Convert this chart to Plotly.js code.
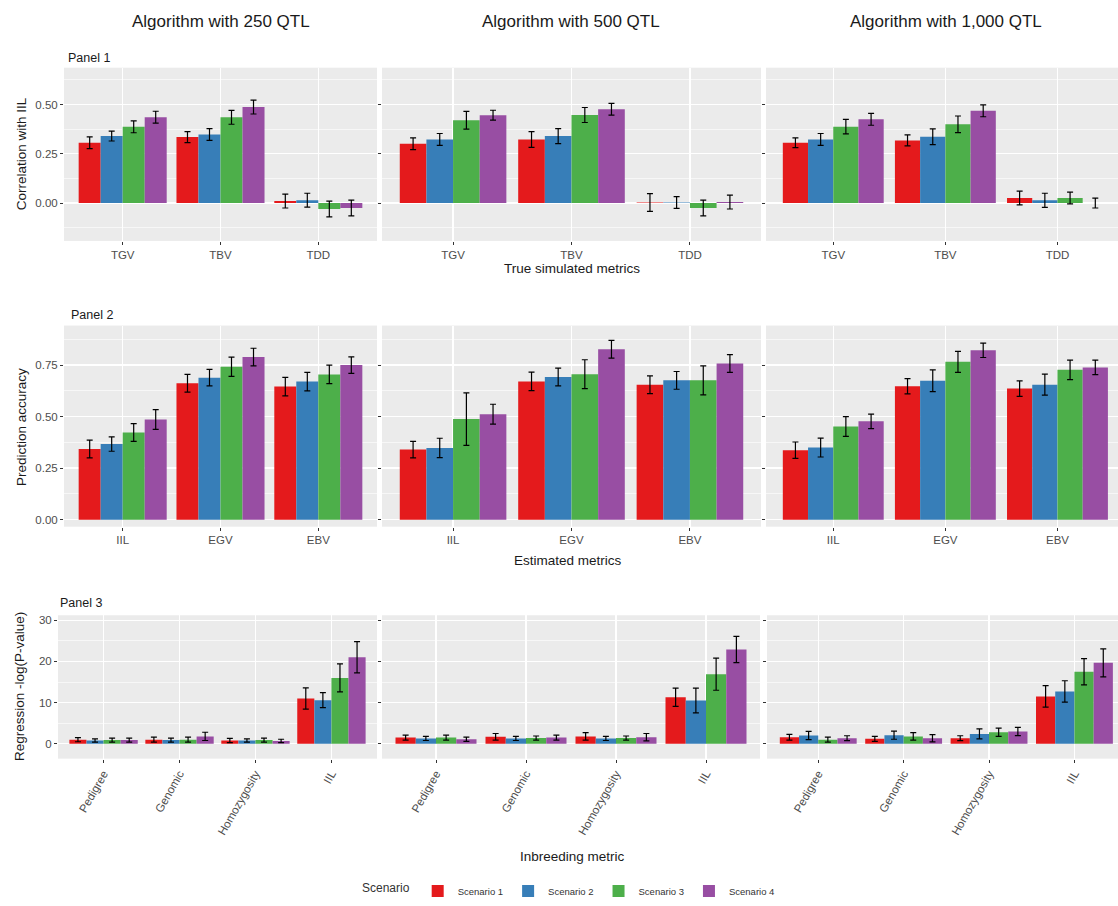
<!DOCTYPE html>
<html><head><meta charset="utf-8">
<script src="https://cdn.plot.ly/plotly-3.0.1.min.js"></script>
<style>html,body{margin:0;padding:0;background:#fff;overflow:hidden}</style>
</head><body><div id="chart" style="width:1118px;height:906px"></div>
<script>
// ---------- data ----------
const scenarios = ["Scenario 1", "Scenario 2", "Scenario 3", "Scenario 4"];
const colors = ["#E41A1C", "#377EB8", "#4DAF4A", "#984EA3"];
const algorithms = ["Algorithm with 250 QTL", "Algorithm with 500 QTL", "Algorithm with 1,000 QTL"];
const trueMetrics = ["TGV", "TBV", "TDD"];
const estMetrics = ["IIL", "EGV", "EBV"];
const inbreedMetrics = ["Pedigree", "Genomic", "Homozygosity", "IIL"];

// Panel 1: correlation with IIL  (rows = scenarios, columns = trueMetrics)
const p1_250  = [[0.306, 0.335, 0.010], [0.340, 0.348, 0.015], [0.387, 0.435, -0.030], [0.436, 0.487, -0.025]];
const p1e_250 = [[0.030, 0.028, 0.035], [0.025, 0.030, 0.035], [0.030, 0.035, 0.040], [0.030, 0.035, 0.040]];
const p1_500  = [[0.301, 0.323, 0.003], [0.323, 0.340, 0.003], [0.420, 0.447, -0.025], [0.446, 0.476, 0.005]];
const p1e_500 = [[0.030, 0.040, 0.045], [0.030, 0.038, 0.030], [0.045, 0.038, 0.040], [0.025, 0.030, 0.035]];
const p1_1000  = [[0.306, 0.318, 0.026], [0.323, 0.337, 0.014], [0.388, 0.400, 0.026], [0.425, 0.468, 0.000]];
const p1e_1000 = [[0.025, 0.028, 0.035], [0.030, 0.040, 0.036], [0.037, 0.042, 0.030], [0.030, 0.030, 0.025]];

// Panel 2: prediction accuracy (columns = estMetrics)
const p2_250  = [[0.343, 0.662, 0.646], [0.367, 0.689, 0.670], [0.423, 0.742, 0.705], [0.486, 0.789, 0.750]];
const p2e_250 = [[0.043, 0.043, 0.045], [0.035, 0.040, 0.045], [0.043, 0.047, 0.045], [0.048, 0.043, 0.040]];
const p2_500  = [[0.340, 0.671, 0.655], [0.348, 0.692, 0.676], [0.488, 0.706, 0.676], [0.512, 0.827, 0.758]];
const p2e_500 = [[0.040, 0.045, 0.043], [0.047, 0.043, 0.043], [0.127, 0.070, 0.070], [0.048, 0.043, 0.043]];
const p2_1000  = [[0.337, 0.647, 0.636], [0.350, 0.674, 0.655], [0.452, 0.766, 0.727], [0.477, 0.822, 0.739]];
const p2e_1000 = [[0.040, 0.037, 0.038], [0.046, 0.053, 0.051], [0.048, 0.051, 0.047], [0.035, 0.035, 0.035]];

// Panel 3: regression -log(P-value) (columns = inbreedMetrics)
const p3_250  = [[1.0, 1.0, 0.8, 11.0], [0.8, 0.9, 0.8, 10.6], [0.9, 1.0, 0.9, 16.0], [0.9, 1.8, 0.7, 21.0]];
const p3e_250 = [[0.5, 0.6, 0.5, 2.6], [0.4, 0.5, 0.4, 1.8], [0.5, 0.6, 0.5, 3.4], [0.5, 1.0, 0.4, 3.8]];
const p3_500  = [[1.5, 1.7, 1.8, 11.3], [1.3, 1.3, 1.3, 10.5], [1.5, 1.4, 1.4, 16.9], [1.1, 1.5, 1.6, 22.9]];
const p3e_500 = [[0.6, 0.8, 0.9, 2.2], [0.5, 0.5, 0.5, 3.0], [0.6, 0.5, 0.5, 3.9], [0.5, 0.6, 0.9, 3.2]];
const p3_1000  = [[1.6, 1.2, 1.35, 11.5], [2.0, 2.1, 2.4, 12.7], [1.0, 1.8, 2.8, 17.5], [1.35, 1.35, 3.0, 19.65]];
const p3e_1000 = [[0.7, 0.6, 0.6, 2.6], [1.0, 1.0, 1.2, 2.6], [0.6, 0.9, 1.0, 3.2], [0.6, 0.9, 1.0, 3.4]];

// ---------- layout helpers ----------
const W = 1118, H = 906;
const FONT = "Liberation Sans, Arial, Helvetica, sans-serif";
const px = v => v / W;
const py = v => 1 - v / H;

const panels = [
  { cats: trueMetrics, vals: [p1_250, p1_500, p1_1000], errs: [p1e_250, p1e_500, p1e_1000],
    top: 68, bottom: 242, yrange: [-0.192, 0.687], dtick: 0.25, fmt: ".2f", angle: 0,
    cols: [[64, 377], [382, 761], [766, 1118]], xr: [[-0.6, 2.6], [-0.6, 2.6], [-0.6, 2.54]] },
  { cats: estMetrics, vals: [p2_250, p2_500, p2_1000], errs: [p2e_250, p2e_500, p2e_1000],
    top: 327, bottom: 529, yrange: [-0.034, 0.942], dtick: 0.25, fmt: ".2f", angle: 0,
    cols: [[64, 377], [382, 761], [766, 1118]], xr: [[-0.6, 2.6], [-0.6, 2.6], [-0.6, 2.54]] },
  { cats: inbreedMetrics, vals: [p3_250, p3_500, p3_1000], errs: [p3e_250, p3e_500, p3e_1000],
    top: 618, bottom: 762, yrange: [-3.6, 31.2], dtick: 10, fmt: "d", angle: -60,
    cols: [[58, 377], [382, 760], [767, 1118]], xr: [[-0.6, 3.6], [-0.6, 3.6], [-0.6, 3.51]] }
];

const data = [];
const layout = {
  width: W, height: H,
  margin: { l: 0, r: 0, t: 0, b: 0 },
  paper_bgcolor: "#ffffff",
  plot_bgcolor: "#EBEBEB",
  barmode: "group",
  bargap: 0.1,
  bargroupgap: 0,
  font: { family: FONT, color: "#333" },
  showlegend: true,
  legend: {
    orientation: "h", x: px(570), xanchor: "center", y: py(895), yanchor: "middle",
    font: { family: FONT, size: 9.5, color: "#333" },
    title: { text: "Scenario", side: "left", font: { family: FONT, size: 12, color: "#333" } },
    bgcolor: "rgba(0,0,0,0)", itemwidth: 30, traceorder: "normal"
  },
  annotations: []
};

let k = 0;
panels.forEach((p, r) => {
  for (let c = 0; c < 3; c++) {
    k++;
    const xn = k === 1 ? "x" : "x" + k;
    const yn = k === 1 ? "y" : "y" + k;
    const xk = k === 1 ? "xaxis" : "xaxis" + k;
    const yk = k === 1 ? "yaxis" : "yaxis" + k;
    layout[xk] = {
      domain: [px(p.cols[c][0]), px(p.cols[c][1])], range: p.xr[c], anchor: yn,
      type: "category", categoryorder: "array", categoryarray: p.cats,
      showgrid: true, gridcolor: "#ffffff", gridwidth: 1.3,
      ticks: "outside", ticklen: 3, tickwidth: 1, tickcolor: "#333",
      tickfont: { family: FONT, size: 11.5, color: "#4d4d4d" },
      tickangle: p.angle, zeroline: false, showline: false, fixedrange: true, automargin: false
    };
    layout[yk] = {
      domain: [py(p.bottom), py(p.top)], range: p.yrange, anchor: xn,
      tickmode: "linear", tick0: 0, dtick: p.dtick, tickformat: p.fmt,
      showgrid: true, gridcolor: "#ffffff", gridwidth: 1.3,
      minor: { tickmode: "linear", tick0: 0, dtick: p.dtick / 2, showgrid: true, gridcolor: "#ffffff", gridwidth: 0.6, ticks: "" },
      ticks: "outside", ticklen: 3, tickwidth: 1, tickcolor: "#333",
      showticklabels: c === 0,
      tickfont: { family: FONT, size: 11.5, color: "#4d4d4d" },
      zeroline: false, showline: false, fixedrange: true, automargin: false
    };
    for (let s = 0; s < 4; s++) {
      data.push({
        type: "bar", name: scenarios[s], x: p.cats, y: p.vals[c][s],
        xaxis: xn, yaxis: yn, legendgroup: scenarios[s], showlegend: k === 1,
        marker: { color: colors[s], line: { width: 0 } },
        error_y: { type: "data", array: p.errs[c][s], visible: true, color: "#000000", thickness: 1.2, width: 3 },
        hoverinfo: "skip"
      });
    }
  }
});

function ann(text, x, y, size, opts) {
  layout.annotations.push(Object.assign({
    text: text, xref: "paper", yref: "paper", x: px(x), y: py(y),
    xanchor: "center", yanchor: "middle", showarrow: false,
    font: { family: FONT, size: size, color: "#1a1a1a" }
  }, opts || {}));
}

// column headings
ann(algorithms[0], 221, 22, 17);
ann(algorithms[1], 571, 22, 17);
ann(algorithms[2], 946, 22, 17);
// panel labels
ann("Panel 1", 66, 58, 12.5, { xanchor: "left" });
ann("Panel 2", 69, 316, 12.5, { xanchor: "left" });
ann("Panel 3", 58, 606, 12.5, { xanchor: "left" });
// y axis titles
ann("Correlation with IIL", 21, 155, 13.5, { textangle: -90 });
ann("Prediction accuracy", 21, 429, 13.5, { textangle: -90 });
ann("Regression -log(P-value)", 20, 690, 13.5, { textangle: -90 });
// x axis titles
ann("True simulated metrics", 572, 270, 13.5);
ann("Estimated metrics", 568, 563, 13.5);
ann("Inbreeding metric", 572, 860, 13.5);

Plotly.newPlot("chart", data, layout, { staticPlot: true, displayModeBar: false });
</script>
</body></html>
